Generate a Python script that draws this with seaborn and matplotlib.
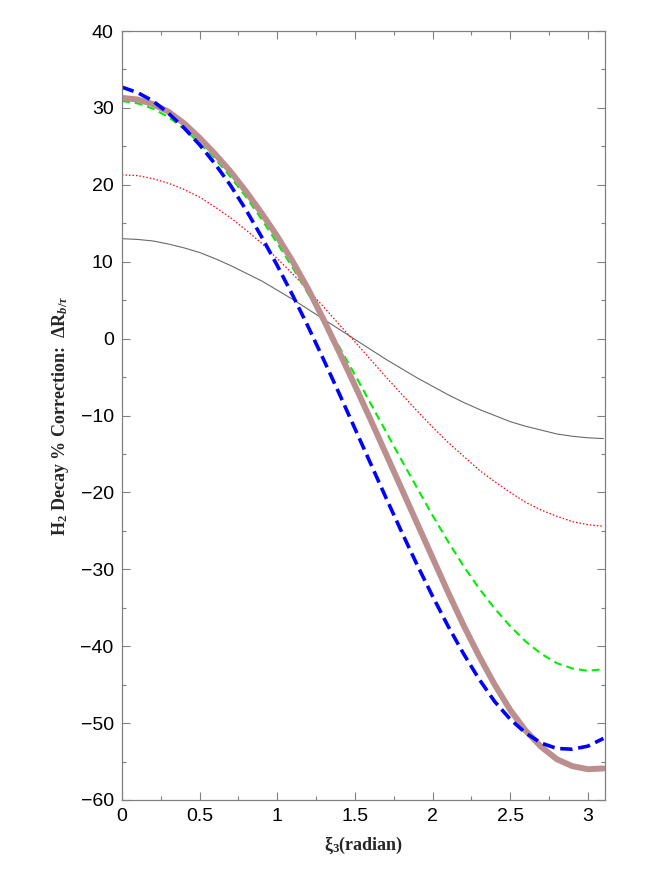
import matplotlib
matplotlib.use("Agg")
import matplotlib.pyplot as plt
import seaborn as sns
import pandas as pd
from matplotlib.ticker import MultipleLocator

# Eje x: xi_3 en radianes
xi3 = [0.0, 0.1, 0.2, 0.3, 0.4, 0.5, 0.6, 0.7, 0.8, 0.9, 1.0, 1.1, 1.2, 1.3, 1.4, 1.5,
       1.6, 1.7, 1.8, 1.9, 2.0, 2.1, 2.2, 2.3, 2.4, 2.5, 2.6, 2.7, 2.8, 2.9, 3.0, 3.1]

# Curvas de correccion (%)
curva_gris = [13.0, 12.9, 12.7, 12.3, 11.8, 11.2, 10.4, 9.5, 8.5, 7.5, 6.3, 5.1, 3.8, 2.5, 1.2, -0.1,
              -1.4, -2.7, -3.9, -5.1, -6.2, -7.3, -8.3, -9.2, -10.0, -10.8, -11.4, -11.9, -12.4, -12.7, -12.9, -13.0]
curva_roja = [21.3, 21.2, 20.8, 20.2, 19.4, 18.4, 17.1, 15.7, 14.1, 12.4, 10.4, 8.4, 6.3, 4.1, 1.8, -0.4,
              -2.7, -5.0, -7.2, -9.4, -11.5, -13.5, -15.3, -17.1, -18.6, -20.0, -21.3, -22.3, -23.1, -23.8, -24.2, -24.4]
curva_verde = [30.9, 30.6, 29.9, 28.8, 27.3, 25.4, 23.4, 21.0, 18.4, 15.5, 12.4, 9.2, 5.8, 2.4, -1.1, -4.7,
               -8.4, -12.1, -15.8, -19.4, -23.0, -26.4, -29.6, -32.5, -35.1, -37.4, -39.4, -41.0, -42.2, -42.9, -43.2, -43.0]
curva_azul = [32.7, 32.0, 30.9, 29.3, 27.4, 25.2, 22.7, 19.9, 16.7, 13.2, 9.5, 5.6, 1.5, -2.8, -7.2, -11.7,
              -16.2, -20.7, -25.1, -29.4, -33.5, -37.4, -41.0, -44.3, -47.2, -49.5, -51.3, -52.6, -53.3, -53.4, -53.0, -52.0]
curva_marron = [31.3, 31.1, 30.5, 29.5, 28.0, 26.1, 24.0, 21.7, 19.1, 16.3, 13.3, 10.0, 6.4, 2.4, -1.8, -6.1,
                -10.5, -15.0, -19.5, -24.0, -28.5, -33.0, -37.3, -41.3, -45.0, -48.3, -51.0, -53.1, -54.7, -55.6, -56.0, -55.9]


def graficar_correccion(archivo="out.png"):
    sns.set_theme(style="white")
    plt.rcParams['font.family'] = ['Liberation Sans Narrow', 'Liberation Sans', 'DejaVu Sans']
    plt.rcParams['mathtext.fontset'] = 'custom'
    plt.rcParams['mathtext.rm'] = 'Liberation Serif:bold'
    plt.rcParams['mathtext.it'] = 'Liberation Serif:italic:bold'
    plt.rcParams['mathtext.bf'] = 'Liberation Serif:bold'

    fig = plt.figure(figsize=(6.54, 8.72), dpi=100)
    ax = fig.add_axes([0.1865, 0.0826, 0.7385, 0.8818])

    df = pd.DataFrame({'xi3': xi3, 'gris': curva_gris, 'roja': curva_roja,
                       'verde': curva_verde, 'azul': curva_azul, 'marron': curva_marron})

    # Orden de dibujo: la curva gruesa encima de la verde
    sns.lineplot(data=df, x='xi3', y='gris', ax=ax, color='#6a6a6a', linewidth=0.8, errorbar=None)
    sns.lineplot(data=df, x='xi3', y='roja', ax=ax, color='#ff0000', linewidth=0.9,
                 linestyle=(0, (1.2, 1.6)), errorbar=None)
    sns.lineplot(data=df, x='xi3', y='verde', ax=ax, color='#00ee00', linewidth=1.5,
                 linestyle=(0, (3.8, 2.4)), errorbar=None)
    sns.lineplot(data=df, x='xi3', y='marron', ax=ax, color='#bc8f8f', linewidth=4.3, errorbar=None)
    sns.lineplot(data=df, x='xi3', y='azul', ax=ax, color='#0000ff', linewidth=2.6,
                 linestyle=(0, (3.4, 1.6)), errorbar=None)

    ax.set_xlim(0, 3.11)
    ax.set_ylim(-60, 40)
    ax.xaxis.set_major_locator(MultipleLocator(0.5))
    ax.xaxis.set_minor_locator(MultipleLocator(0.25))
    ax.yaxis.set_major_locator(MultipleLocator(10))
    ax.yaxis.set_minor_locator(MultipleLocator(5))
    ax.set_xticks([0, 0.5, 1, 1.5, 2, 2.5, 3])
    ax.set_xticklabels(['0', '0.5', '1', '1.5', '2', '2.5', '3'])

    for lado in ['top', 'bottom', 'left', 'right']:
        ax.spines[lado].set_color('#808080')
        ax.spines[lado].set_linewidth(0.9)
    ax.tick_params(which='both', direction='in', top=True, right=True, bottom=True, left=True,
                   color='#808080', width=0.8, labelsize=14, labelcolor='black', pad=6)
    ax.tick_params(which='major', length=6)
    ax.tick_params(which='minor', length=3)

    ax.set_xlabel('ξ$_3$(radian)', fontsize=13, fontweight='bold', family=['Liberation Serif'])
    ax.xaxis.set_label_coords(0.5, -0.045)
    ax.set_ylabel(r'H$_2$ Decay % Correction:  $\Delta$R$_{b/\tau}$', fontsize=13,
                  fontweight='bold', family=['Liberation Serif'])
    ax.yaxis.set_label_coords(-0.105, 0.5)

    plt.savefig(archivo, dpi=100)
    plt.close()


graficar_correccion()
